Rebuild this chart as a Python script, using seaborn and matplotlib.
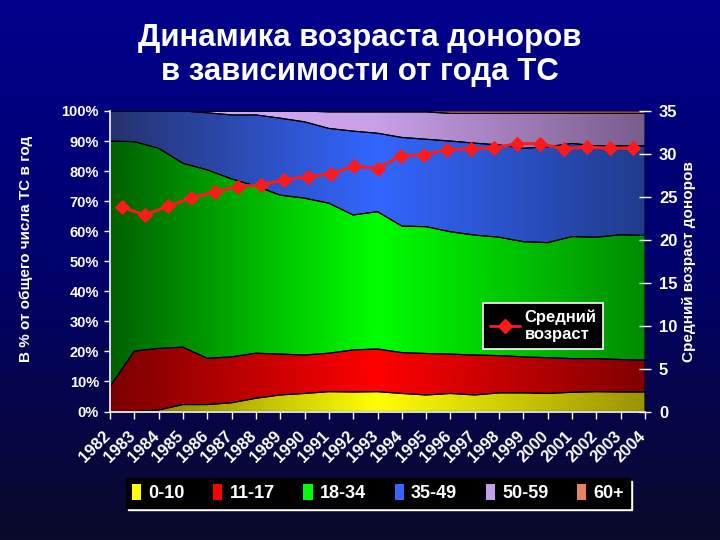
import numpy as np
import matplotlib
matplotlib.use("Agg")
import matplotlib.pyplot as plt
import matplotlib.transforms as mtransforms
from matplotlib.colors import LinearSegmentedColormap
from matplotlib.patches import Patch
from matplotlib.lines import Line2D
import seaborn as sns

# Data
years = list(range(1982, 2005))

# share of each age group, % of all vehicles of the year
age_0_10 = [0, 0, 0.5, 2.3, 2.3, 2.9, 4.4, 5.5, 6.0, 6.6, 6.5, 6.6,
            6.0, 5.5, 6.0, 5.5, 6.2, 6.2, 6.0, 6.4, 6.6, 6.5, 6.5]
age_11_17 = [8.3, 20.1, 20.5, 19.1, 15.4, 15.3, 15.0, 13.6, 12.8, 12.8, 14.0, 14.2,
             13.6, 13.8, 13.1, 13.3, 12.4, 12.0, 11.9, 11.2, 11.0, 10.8, 10.6]
age_18_34 = [81.7, 69.7, 66.6, 61.2, 62.7, 59.2, 55.6, 52.9, 52.2, 49.9, 44.9, 45.7,
             42.1, 42.2, 40.7, 39.9, 39.4, 38.3, 38.3, 40.6, 40.4, 41.5, 41.5]
age_35_49 = [10.0, 10.2, 12.4, 17.4, 19.0, 21.3, 23.7, 25.6, 25.4, 24.9, 27.9, 26.1,
             29.5, 29.1, 30.2, 30.6, 30.7, 31.1, 31.9, 31.0, 30.4, 29.6, 29.8]
age_50_59 = [0, 0, 0, 0, 0.6, 1.3, 1.3, 2.4, 3.6, 5.5, 6.4, 7.1,
             8.5, 9.1, 9.2, 9.9, 10.5, 11.6, 11.1, 10.0, 10.8, 10.8, 10.8]
age_60_plus = [0, 0, 0, 0, 0, 0, 0, 0, 0, 0.3, 0.3, 0.3,
               0.3, 0.3, 0.8, 0.8, 0.8, 0.8, 0.8, 0.8, 0.8, 0.8, 0.8]

# average donor age (right axis)
avg_age = [23.8, 22.9, 23.9, 24.9, 25.6, 26.2, 26.4, 27.0, 27.35, 27.7, 28.6, 28.3,
           29.75, 29.9, 30.5, 30.6, 30.7, 31.2, 31.2, 30.6, 30.8, 30.65, 30.7]

group_labels = ['0-10', '11-17', '18-34', '35-49', '50-59', '60+']
legend_colors = ['#ffff00', '#ff0000', '#00ff00', '#3366ff', '#c0a0e8', '#e8845c']
# left / middle / right tones of the horizontal gradient fills
gradient_stops = [
    ['#6e6e00', '#ffff00', '#9a9400'],
    ['#7a0000', '#ff0000', '#800000'],
    ['#006000', '#00ff00', '#008c00'],
    ['#25336e', '#3366ff', '#213c8c'],
    ['#e0b0f0', '#c8a0e8', '#7a5c8c'],
    ['#f09070', '#e08060', '#c06848'],
]

sns.set_style("dark")
plt.rcParams['font.family'] = ['Liberation Sans', 'DejaVu Sans']
plt.rcParams['font.weight'] = 'bold'

fig = plt.figure(figsize=(7.2, 5.4), dpi=100)

# Slide background
bg = fig.add_axes([0, 0, 1, 1], zorder=-10)
bg_cmap = LinearSegmentedColormap.from_list('bg', ['#00008c', '#00006a', '#0a0a2a'])
bg.imshow(np.linspace(0, 1, 256).reshape(-1, 1), aspect='auto', cmap=bg_cmap,
          extent=(0, 1, 0, 1))
bg.axis('off')

rect = [110 / 720, 1 - 411.5 / 540, 535 / 720, 300.5 / 540]
ax = fig.add_axes(rect)
ax.set_facecolor('#1a1a6a')

polys = ax.stackplot(years, age_0_10, age_11_17, age_18_34, age_35_49, age_50_59, age_60_plus,
                     colors=legend_colors, edgecolor='black', linewidth=0.8)

# Gradient fills clipped to each area
ramp = np.linspace(0, 1, 256).reshape(1, -1)
for poly, stops in zip(polys, gradient_stops):
    cmap = LinearSegmentedColormap.from_list('fill', stops)
    im = ax.imshow(ramp, cmap=cmap, aspect='auto', extent=(1982, 2004, 0, 100),
                   zorder=1, interpolation='bilinear')
    im.set_clip_path(poly.get_paths()[0], transform=ax.transData)
    poly.set_facecolor('none')
    poly.set_zorder(2)

ax.set_xlim(1982, 2004)
ax.set_ylim(0, 100)
ax.grid(False)
ax.set_yticks(range(0, 101, 10))
ax.set_yticklabels([f'{v}%' for v in range(0, 101, 10)])
ax.set_xticks(years)
ax.set_xticklabels([str(y) for y in years], rotation=45, ha='right', rotation_mode='anchor')
ax.tick_params(axis='y', colors='white', labelsize=10.5, length=4, width=1, direction='out', pad=4, left=True)
ax.tick_params(axis='x', colors='white', labelsize=12, length=5, width=1, direction='out', pad=7, bottom=True)
shift = mtransforms.ScaledTranslation(-5 / 72, 0, fig.dpi_scale_trans)
for lab in ax.get_xticklabels():
    lab.set_transform(lab.get_transform() + shift)
for side in ['top', 'right']:
    ax.spines[side].set_visible(False)
for side in ['left', 'bottom']:
    ax.spines[side].set_color('white')
    ax.spines[side].set_linewidth(1.2)

# Average age on the secondary axis (category positions)
ax2 = fig.add_axes(rect, facecolor='none')
sns.lineplot(x=years, y=avg_age, ax=ax2, color='#ff1a1a', marker='D', markersize=7.5,
             markeredgecolor='#ff1a1a', linewidth=2.2, zorder=5)
ax2.set_xlim(1981.5, 2004.5)
ax2.set_ylim(0, 35)
ax2.grid(False)
ax2.set_xticks([])
ax2.set_xlabel('')
ax2.set_ylabel('')
ax2.yaxis.tick_right()
ax2.set_yticks(range(0, 36, 5))
ax2.tick_params(axis='y', colors='white', labelsize=12, length=8, width=1, direction='inout', pad=6, right=True)
for side in ax2.spines:
    ax2.spines[side].set_visible(False)

line_handle = Line2D([0], [0], color='#ff1a1a', marker='D', lw=2, ms=7)
leg2 = ax2.legend([line_handle], ['Средний\nвозраст'], loc='center',
                  bbox_to_anchor=(543 / 720, 1 - 326 / 540), bbox_transform=fig.transFigure,
                  facecolor='black', edgecolor='white', framealpha=1, fancybox=False,
                  fontsize=12, labelcolor='white', handlelength=1.8, handletextpad=0.3,
                  borderpad=0.4)
leg2.get_frame().set_linewidth(1.2)

# Titles and axis captions
fig.text(0.5, 1 - 38 / 540, 'Динамика возраста доноров', ha='center', va='center',
         fontsize=22.5, fontweight='bold', color='white')
fig.text(0.5, 1 - 72 / 540, 'в зависимости от года ТС', ha='center', va='center',
         fontsize=22.5, fontweight='bold', color='white')
fig.text(26 / 720, 1 - 249 / 540, 'В % от общего числа ТС в год', rotation=90,
         ha='center', va='center', fontsize=11, fontweight='bold', color='white')
fig.text(689 / 720, 1 - 262 / 540, 'Средний возраст доноров', rotation=90,
         ha='center', va='center', fontsize=11, fontweight='bold', color='white')

# Bottom legend for the age groups
handles = [Patch(facecolor=c, edgecolor='none') for c in legend_colors]
leg = fig.legend(handles, group_labels, loc='center', bbox_to_anchor=(378 / 720, 1 - 493 / 540),
                 ncol=6, facecolor='black', edgecolor='black', framealpha=1, fancybox=False,
                 fontsize=13, labelcolor='white', handlelength=0.5, handleheight=1.0,
                 handletextpad=0.4, columnspacing=1.6, borderpad=0.3, borderaxespad=0,
                 shadow={'facecolor': 'white', 'edgecolor': 'white', 'alpha': 1, 'ox': 1.5, 'oy': -1.5})

fig.savefig('out.png', dpi=100)
